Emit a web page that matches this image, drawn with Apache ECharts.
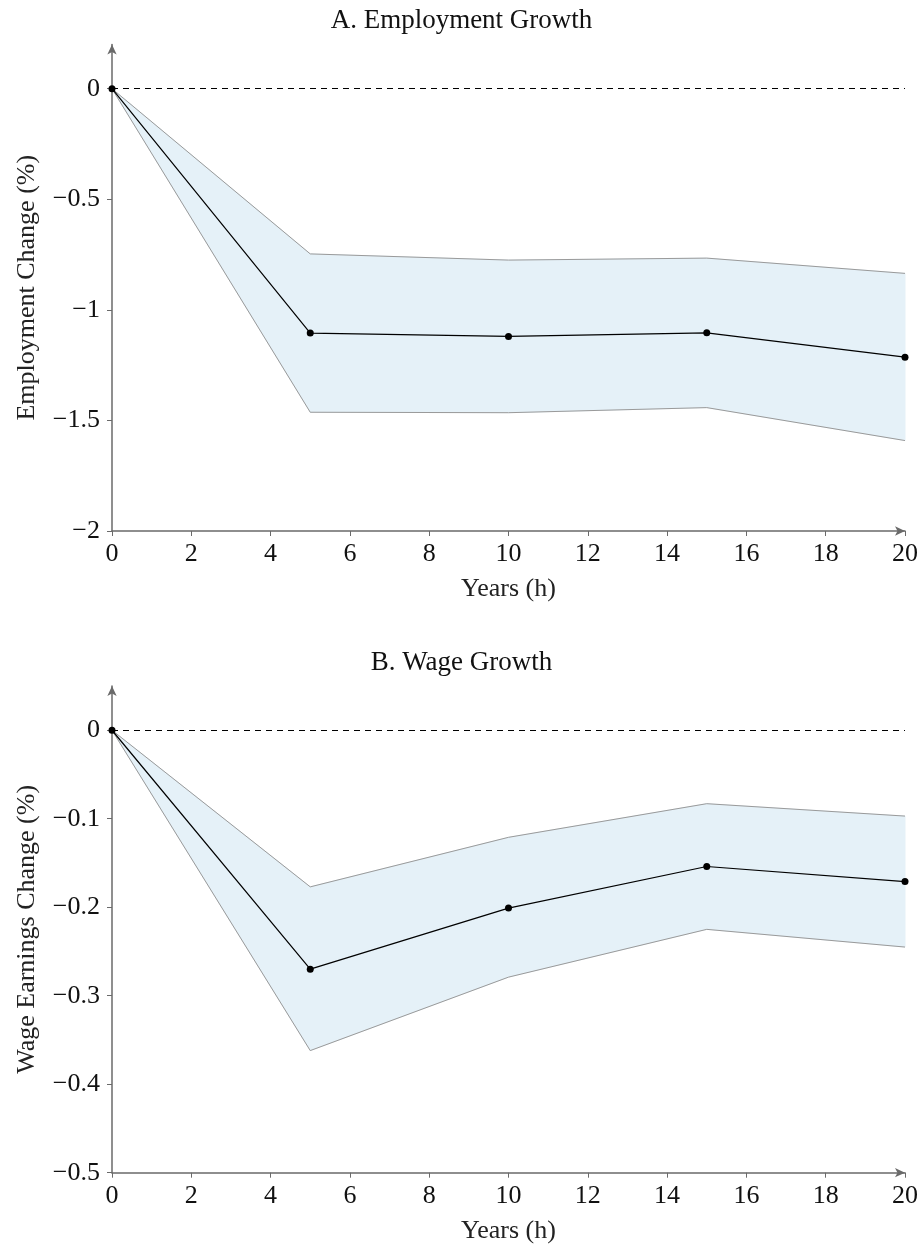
<!DOCTYPE html>
<html>
<head>
<meta charset="utf-8">
<script src="https://cdn.jsdelivr.net/npm/echarts@6/dist/echarts.min.js"></script>
<style>
  html, body { margin: 0; padding: 0; background: #fff; }
  #main { width: 923px; height: 1251px; }
</style>
</head>
<body>
<div id="main"></div>
<script>
// data
var years = [0, 5, 10, 15, 20]
var empMean = [0, -1.105, -1.120, -1.104, -1.214]
var empUpper = [0, -0.747, -0.775, -0.766, -0.835]
var empLower = [0, -1.463, -1.465, -1.442, -1.591]
var wageMean = [0, -0.270, -0.201, -0.154, -0.171]
var wageUpper = [0, -0.177, -0.121, -0.083, -0.097]
var wageLower = [0, -0.362, -0.279, -0.225, -0.245]

var xTicks = [0, 2, 4, 6, 8, 10, 12, 14, 16, 18, 20]
var empTicks = [-2, -1.5, -1, -0.5, 0]
var wageTicks = [-0.5, -0.4, -0.3, -0.2, -0.1, 0]

var font = '"Liberation Serif", "DejaVu Serif", serif'
var axisGray = '#6a6a6a'
var bandLine = '#9a9a9a'
var bandFill = '#e5f1f8'

function pairs(xs, ys) {
  var out = []
  for (var i = 0; i < xs.length; i++) out.push([xs[i], ys[i]])
  return out
}
// one quad per segment between two years: [x0, lo0, hi0, x1, lo1, hi1]
function segments(xs, lo, hi) {
  var out = []
  for (var i = 0; i < xs.length - 1; i++) {
    out.push([xs[i], lo[i], hi[i], xs[i + 1], lo[i + 1], hi[i + 1]])
  }
  return out
}
function minus(v) {
  return String(v).replace('-', '\u2212')
}

function xAxis(idx) {
  return {
    type: 'value', gridIndex: idx, min: 0, max: 20,
    name: 'Years (h)', nameLocation: 'middle', nameGap: 45,
    nameTextStyle: { fontFamily: font, fontSize: 26, color: '#222' },
    axisLine: { show: true, onZero: false, symbol: ['none', 'arrow'], symbolSize: [7, 10],
      lineStyle: { color: axisGray, width: 1.5 } },
    axisTick: { show: true, length: 5, customValues: xTicks, lineStyle: { color: axisGray } },
    axisLabel: { customValues: xTicks, margin: 10, fontFamily: font, fontSize: 26, color: '#111' },
    splitLine: { show: false }
  }
}
function yAxis(idx, min, max, ticks, name) {
  return {
    type: 'value', gridIndex: idx, min: min, max: max,
    name: name, nameLocation: 'middle', nameGap: 72,
    nameTextStyle: { fontFamily: font, fontSize: 26, color: '#222' },
    axisLine: { show: true, onZero: false, symbol: ['none', 'arrow'], symbolSize: [7, 10],
      lineStyle: { color: axisGray, width: 1.5 } },
    axisTick: { show: true, length: 5, customValues: ticks, lineStyle: { color: axisGray } },
    axisLabel: { customValues: ticks, margin: 12, fontFamily: font, fontSize: 26, color: '#111',
      formatter: minus },
    splitLine: { show: false }
  }
}

function renderBand(params, api) {
  var a = api.coord([api.value(0), api.value(1)])
  var b = api.coord([api.value(3), api.value(4)])
  var c = api.coord([api.value(3), api.value(5)])
  var d = api.coord([api.value(0), api.value(2)])
  return {
    type: 'polygon',
    shape: { points: [a, b, c, d] },
    style: { fill: bandFill, stroke: bandFill, lineWidth: 1 }
  }
}

function panel(idx, mean, upper, lower) {
  return [
    {
      type: 'custom', xAxisIndex: idx, yAxisIndex: idx, z: 1,
      renderItem: renderBand, data: segments(years, lower, upper),
      encode: { x: [0, 3], y: [1, 2, 4, 5] }, silent: true
    },
    {
      type: 'line', xAxisIndex: idx, yAxisIndex: idx, data: pairs(years, lower),
      symbol: 'none', z: 3, lineStyle: { color: bandLine, width: 1 }
    },
    {
      type: 'line', xAxisIndex: idx, yAxisIndex: idx, data: pairs(years, upper),
      symbol: 'none', z: 3, lineStyle: { color: bandLine, width: 1 }
    },
    {
      type: 'line', xAxisIndex: idx, yAxisIndex: idx, data: pairs(years, mean),
      symbol: 'circle', symbolSize: 7, clip: false, z: 5,
      itemStyle: { color: '#000' },
      lineStyle: { color: '#000', width: 1.2 },
      markLine: {
        silent: true, symbol: 'none', label: { show: false },
        lineStyle: { color: '#000', type: [6, 5], width: 1 },
        data: [{ yAxis: 0 }]
      }
    }
  ]
}

var chart = echarts.init(document.getElementById('main'))
var option = {
  animation: false,
  backgroundColor: '#fff',
  title: [
    { text: 'A. Employment Growth', left: 'center', top: 2,
      textStyle: { fontFamily: font, fontSize: 27, fontWeight: 'normal', color: '#111' } },
    { text: 'B. Wage Growth', left: 'center', top: 644,
      textStyle: { fontFamily: font, fontSize: 27, fontWeight: 'normal', color: '#111' } }
  ],
  grid: [
    { left: 112, right: 18, top: 44.5, height: 486.5 },
    { left: 112, right: 18, top: 686, height: 486.7 }
  ],
  xAxis: [xAxis(0), xAxis(1)],
  yAxis: [
    yAxis(0, -2, 0.2, empTicks, 'Employment Change (%)'),
    yAxis(1, -0.5, 0.05, wageTicks, 'Wage Earnings Change (%)')
  ],
  series: panel(0, empMean, empUpper, empLower).concat(panel(1, wageMean, wageUpper, wageLower))
}
chart.setOption(option)
</script>
</body>
</html>
